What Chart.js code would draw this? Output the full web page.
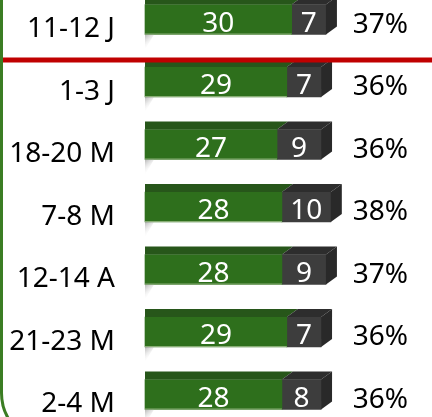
<!DOCTYPE html>
<html lang="en">
<head>
  <meta charset="UTF-8" />
  <title>Stacked 3D bars</title>
  <script src="https://cdn.jsdelivr.net/npm/chart.js"></script>
  <style>
    html, body { margin: 0; padding: 0; background: #fff; }
    #wrap { width: 432px; height: 417px; position: relative; }
  </style>
</head>
<body>
  <div id="wrap"><canvas id="chart" width="432" height="417"></canvas></div>

  <script>
    const categories = ['11-12 J', '1-3 J', '18-20 M', '7-8 M', '12-14 A', '21-23 M', '2-4 M'];
    const greenValues = [30, 29, 27, 28, 28, 29, 28];
    const darkValues = [7, 7, 9, 10, 9, 7, 8];
    const percentLabels = ['37%', '36%', '36%', '38%', '37%', '36%', '36%'];

    const FONT = '28px "Noto Sans", "Open Sans", sans-serif';
    const DX = 11, DY = 8;

    function shade(ctx, pts, color) {
      ctx.beginPath();
      ctx.moveTo(pts[0][0], pts[0][1]);
      for (let i = 1; i < pts.length; i++) ctx.lineTo(pts[i][0], pts[i][1]);
      ctx.closePath();
      ctx.fillStyle = color;
      ctx.fill();
    }

    const bars3d = {
      id: 'bars3d',
      afterDatasetsDraw(chart) {
        const ctx = chart.ctx;
        const xs = chart.scales.x;
        const tops = ['#27561a', '#2d2d2d'];
        ctx.save();
        chart.data.datasets.forEach((ds, di) => {
          chart.getDatasetMeta(di).data.forEach((bar, i) => {
            const p = bar.getProps(['x', 'y', 'base', 'height'], true);
            const top = p.y - p.height / 2, bottom = p.y + p.height / 2;
            const x0 = p.base, x1 = p.x;
            // top face
            const back = di === 0 ? [x0, top - DY] : [x0 + DX, top - DY];
            shade(ctx, [[x0, top], [x1, top], [x1 + DX, top - DY], back], tops[di]);
            if (di === 1) {
              // right side face
              shade(ctx, [[x1, top], [x1 + DX, top - DY], [x1 + DX, bottom - DY], [x1, bottom]], '#292929');
            }
            if (di === 0) {
              // little wall shadow under the bar
              const g = ctx.createLinearGradient(x0, bottom, x0 + 8, bottom + 10);
              g.addColorStop(0, 'rgba(120,120,120,0.55)');
              g.addColorStop(1, 'rgba(255,255,255,0)');
              shade(ctx, [[x0, bottom], [x0 + 9, bottom], [x0, bottom + 15]], g);
              // faint bottom edge
              ctx.fillStyle = 'rgba(160,190,140,0.8)';
              ctx.fillRect(x0, bottom - 1, x1 - x0, 1);
            }
            // value text
            ctx.fillStyle = '#fff';
            ctx.font = FONT;
            ctx.textAlign = 'center';
            ctx.textBaseline = 'alphabetic';
            ctx.fillText(String(ds.data[i]), (x0 + x1) / 2, p.y + 12);
          });
        });

        // percentages
        ctx.fillStyle = '#000';
        ctx.textAlign = 'left';
        const px = xs.getPixelForValue(42.5);
        chart.getDatasetMeta(1).data.forEach((bar, i) => {
          ctx.fillText(percentLabels[i], px, bar.y + 13);
        });

        // red divider under the first row
        ctx.fillStyle = '#c00000';
        ctx.fillRect(0, 57.5, chart.width, 5);

        // green panel border, rounded bottom-left corner
        ctx.strokeStyle = '#3b7d23';
        ctx.lineWidth = 3;
        ctx.beginPath();
        ctx.roundRect(1.5, -60, 600, 503, 50);
        ctx.stroke();
        ctx.restore();
      }
    };

    new Chart(document.getElementById('chart'), {
      type: 'bar',
      data: {
        labels: categories,
        datasets: [
          { label: 'A', data: greenValues, backgroundColor: '#2e6f1c' },
          { label: 'B', data: darkValues, backgroundColor: '#3d3d3d' }
        ]
      },
      options: {
        indexAxis: 'y',
        responsive: false,
        animation: false,
        events: [],
        layout: { padding: { top: 19.5, bottom: 22.5, left: 0, right: 42.5 } },
        datasets: { bar: { barThickness: 30, borderWidth: 0, clip: false } },
        plugins: { legend: { display: false }, tooltip: { enabled: false } },
        scales: {
          x: { stacked: true, display: false, min: 0, max: 50 },
          y: {
            stacked: true,
            offset: false,
            grid: { display: false, drawTicks: false },
            border: { display: false },
            ticks: { color: '#000', font: { family: '"Noto Sans", "Open Sans", sans-serif', size: 28 }, padding: 30, labelOffset: 10 },
            afterFit(scale) {
              scale.width = 145;
              scale.paddingTop = 0;
              scale.paddingBottom = 0;
            }
          }
        }
      },
      plugins: [bars3d]
    });
  </script>
</body>
</html>
